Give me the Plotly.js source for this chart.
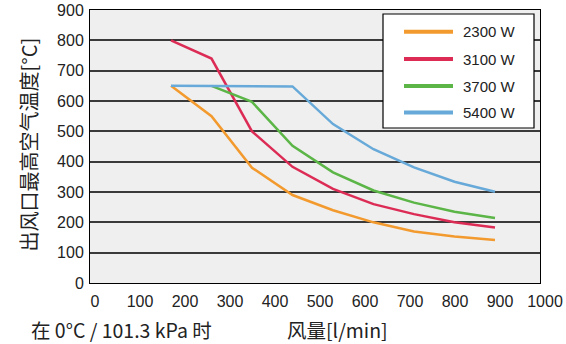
<!DOCTYPE html>
<html><head><meta charset="utf-8">
<script src="https://cdn.plot.ly/plotly-3.0.1.min.js"></script>
<style>html,body{margin:0;padding:0;background:#fff}#chart{width:566px;height:344px}</style>
</head><body><div id="chart"></div>
<script>
const airflow = [180, 270, 360, 450, 540, 630, 720, 810, 900];
const seriesNames = ['2300 W', '3100 W', '3700 W', '5400 W'];
const temp2300 = [650, 550, 380, 290, 240, 200, 170, 153, 142];
const temp3100 = [800, 740, 500, 383, 310, 260, 227, 200, 183];
const temp3700 = [null, 650, 597, 452, 365, 305, 265, 235, 214];
const temp5400 = [650, 650, 650, 648, 524, 441, 381, 334, 301];
const xTicks = [0, 100, 200, 300, 400, 500, 600, 700, 800, 900, 1000];
const yTicks = [0, 100, 200, 300, 400, 500, 600, 700, 800, 900];

const colors = ['#f39a2e', '#dc2c55', '#5bb547', '#67a9d8'];
const ys = [temp2300, temp3100, temp3700, temp5400];
const traces = ys.map((y, i) => ({
  x: airflow, y: y, type: 'scatter', mode: 'lines', name: seriesNames[i],
  connectgaps: false, showlegend: false,
  line: {color: colors[i], width: 2.5}
}));

// pixel -> paper helpers for the legend box (plot area 90..540 x 10..283)
const L = 90, R = 540, T = 10, B = 283;
const px = x => (x - L) / (R - L);
const py = y => (B - y) / (B - T);

const shapes = [{
  type: 'rect', xref: 'paper', yref: 'paper',
  x0: px(383), x1: px(534), y0: py(128), y1: py(14),
  fillcolor: '#ffffff', line: {color: '#000', width: 1.2}, layer: 'above'
}];
const legendY = [31.7, 59, 86, 112.5];
const annotations = [];
seriesNames.forEach((name, i) => {
  shapes.push({
    type: 'line', xref: 'paper', yref: 'paper',
    x0: px(404), x1: px(453), y0: py(legendY[i]), y1: py(legendY[i]),
    line: {color: colors[i], width: 4}, layer: 'above'
  });
  annotations.push({
    text: name, xref: 'paper', yref: 'paper', x: px(461), y: py(legendY[i]),
    xanchor: 'left', yanchor: 'middle', showarrow: false,
    font: {family: 'Liberation Sans, Arial, sans-serif', size: 15, color: '#222'}
  });
});
annotations.push(
  {text: '出风口最高空气温度[°C]', xref: 'paper', yref: 'paper', x: px(27.5), y: py(145),
   textangle: -90, showarrow: false, xanchor: 'center', yanchor: 'middle',
   font: {family: 'Noto Sans CJK SC, sans-serif', size: 20, color: '#222'}},
  {text: '在 0°C / 101.3 kPa 时', xref: 'paper', yref: 'paper', x: px(121), y: py(329),
   showarrow: false, xanchor: 'center', yanchor: 'middle',
   font: {family: 'Noto Sans CJK SC, sans-serif', size: 19.5, color: '#222'}},
  {text: '风量[l/min]', xref: 'paper', yref: 'paper', x: px(337), y: py(329),
   showarrow: false, xanchor: 'center', yanchor: 'middle',
   font: {family: 'Noto Sans CJK SC, sans-serif', size: 19.5, color: '#222'}}
);

const tickFont = {family: 'Liberation Sans, Arial, sans-serif', size: 16, color: '#222'};
const layout = {
  width: 566, height: 344,
  margin: {l: L, r: 566 - R, t: T, b: 344 - B},
  paper_bgcolor: '#ffffff', plot_bgcolor: '#efefef',
  showlegend: false,
  xaxis: {
    range: [0, 1000], tickvals: xTicks, ticktext: xTicks.map(String),
    showgrid: false, zeroline: false, showline: true, mirror: true,
    linecolor: '#000', linewidth: 1, ticks: '', tickfont: tickFont,
    ticklabelshift: 5, ticklabelstandoff: 4
  },
  yaxis: {
    range: [0, 900], tickvals: yTicks, ticktext: yTicks.map(String),
    showgrid: true, gridcolor: '#3a3a3a', gridwidth: 2,
    zeroline: false, showline: true, mirror: true,
    linecolor: '#000', linewidth: 1, ticks: '', tickfont: tickFont,
    ticklabelstandoff: 2
  },
  shapes: shapes,
  annotations: annotations
};
Plotly.newPlot('chart', traces, layout, {staticPlot: true});
</script></body></html>
